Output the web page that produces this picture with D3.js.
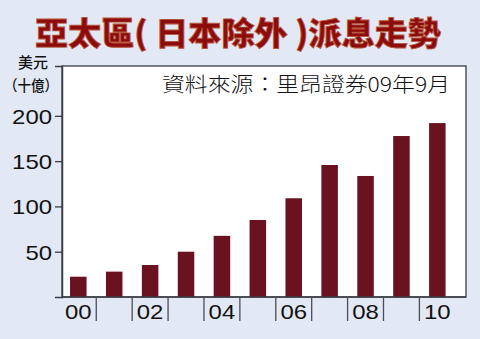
<!DOCTYPE html>
<html><head><meta charset="utf-8">
<script src="https://cdn.jsdelivr.net/npm/d3@7"></script>
<style>html,body{margin:0;padding:0;background:#e3e8f5;}svg{display:block;}</style>
</head><body>
<script>
const years = ["00","01","02","03","04","05","06","07","08","09","10"];
const values = [22.4, 28, 35.3, 50, 67.5, 85, 109, 145.7, 133.6, 177.7, 192];
const yTicks = [50, 100, 150, 200];
const xLabels = ["00","02","04","06","08","10"];
const title = "亞太區( 日本除外 )派息走勢";
const unit1 = "美元", unit2 = "（十億）";
const source = "資料來源：里昂證券09年9月";

const W = 480, H = 339;
const svg = d3.select("body").append("svg").attr("width", W).attr("height", H);
svg.append("rect").attr("width", W).attr("height", H).attr("fill", "#e3e8f5");

const plot = {l: 62, r: 466, t: 66, b: 297};
const y = d3.scaleLinear().domain([0, 255]).range([plot.b, plot.t]);
const x = d3.scaleBand().domain(years).range([60.35, 455.3]).paddingInner(0.54).paddingOuter(0.27);
const digitW = 13.3;

// plot background
svg.append("rect").attr("x", plot.l).attr("y", plot.t).attr("width", plot.r - plot.l).attr("height", plot.b - plot.t)
  .attr("fill", "#fff").attr("stroke", "#3a3d44").attr("stroke-width", 1.3);

// bars
svg.append("g").selectAll("rect").data(values).join("rect")
  .attr("x", (d, i) => x(years[i]))
  .attr("width", x.bandwidth())
  .attr("y", d => y(d))
  .attr("height", d => y(0) - y(d))
  .attr("fill", "#6a1220");

// y axis
const yAxis = svg.append("g").attr("transform", `translate(${plot.l},0)`)
  .call(d3.axisLeft(y).tickValues(yTicks).tickSize(7).tickPadding(3).tickFormat(d3.format("d")));
yAxis.select(".domain").attr("stroke", "#3a3d44").attr("stroke-width", 1.5);
yAxis.selectAll(".tick line").attr("stroke", "#3a3d44").attr("stroke-width", 1.3);
yAxis.selectAll(".tick text").attr("font-family", "Liberation Sans, Arial, sans-serif").attr("font-size", 21).attr("fill", "#111").attr("dy", "0.36em")
  .attr("textLength", d => String(d).length * digitW).attr("lengthAdjust", "spacingAndGlyphs");

// x axis line
svg.append("line").attr("x1", plot.l).attr("x2", plot.r).attr("y1", plot.b).attr("y2", plot.b)
  .attr("stroke", "#3a3d44").attr("stroke-width", 1.5);

// x tick marks between bars
const step = x.step();
svg.append("g").selectAll("line").data(years.slice(0, -1)).join("line")
  .attr("x1", d => x(d) + x.bandwidth() / 2 + step / 2)
  .attr("x2", d => x(d) + x.bandwidth() / 2 + step / 2)
  .attr("y1", plot.b + 1).attr("y2", plot.b + 24)
  .attr("stroke", "#4a4d55").attr("stroke-width", 1.3);

// x labels
svg.append("g").selectAll("text").data(xLabels).join("text")
  .attr("x", d => x(d) + x.bandwidth() / 2)
  .attr("y", 319)
  .attr("text-anchor", "middle")
  .attr("font-family", "Liberation Sans, Arial, sans-serif").attr("font-size", 21).attr("fill", "#111")
  .attr("textLength", d => d.length * digitW).attr("lengthAdjust", "spacingAndGlyphs")
  .text(d => d);

// unit label
svg.append("text").attr("x", 33).attr("y", 68).attr("text-anchor", "middle")
  .attr("font-family", "Noto Sans CJK TC, sans-serif").attr("font-size", 15).attr("font-weight", 500).attr("fill", "#111").text(unit1);
svg.append("text").attr("x", 31).attr("y", 91).attr("text-anchor", "middle")
  .attr("font-family", "Noto Sans CJK TC, sans-serif").attr("font-size", 15).attr("font-weight", 500).attr("fill", "#111")
  .attr("textLength", 54).attr("lengthAdjust", "spacingAndGlyphs").text(unit2);

// source
svg.append("text").attr("x", 162).attr("y", 92)
  .attr("font-family", "Noto Sans CJK TC, serif").attr("font-size", 20).attr("font-weight", 300).attr("fill", "#111")
  .attr("textLength", 288).attr("lengthAdjust", "spacingAndGlyphs")
  .text(source);

// title
svg.append("text").attr("x", 35).attr("y", 45)
  .attr("font-family", "Noto Sans CJK TC, sans-serif").attr("font-size", 32).attr("font-weight", 900)
  .attr("fill", "#8c0c0c").attr("stroke", "#b8583e").attr("stroke-width", 0.8)
  .attr("textLength", 406).attr("lengthAdjust", "spacingAndGlyphs")
  .text(title);
</script>
</body></html>
